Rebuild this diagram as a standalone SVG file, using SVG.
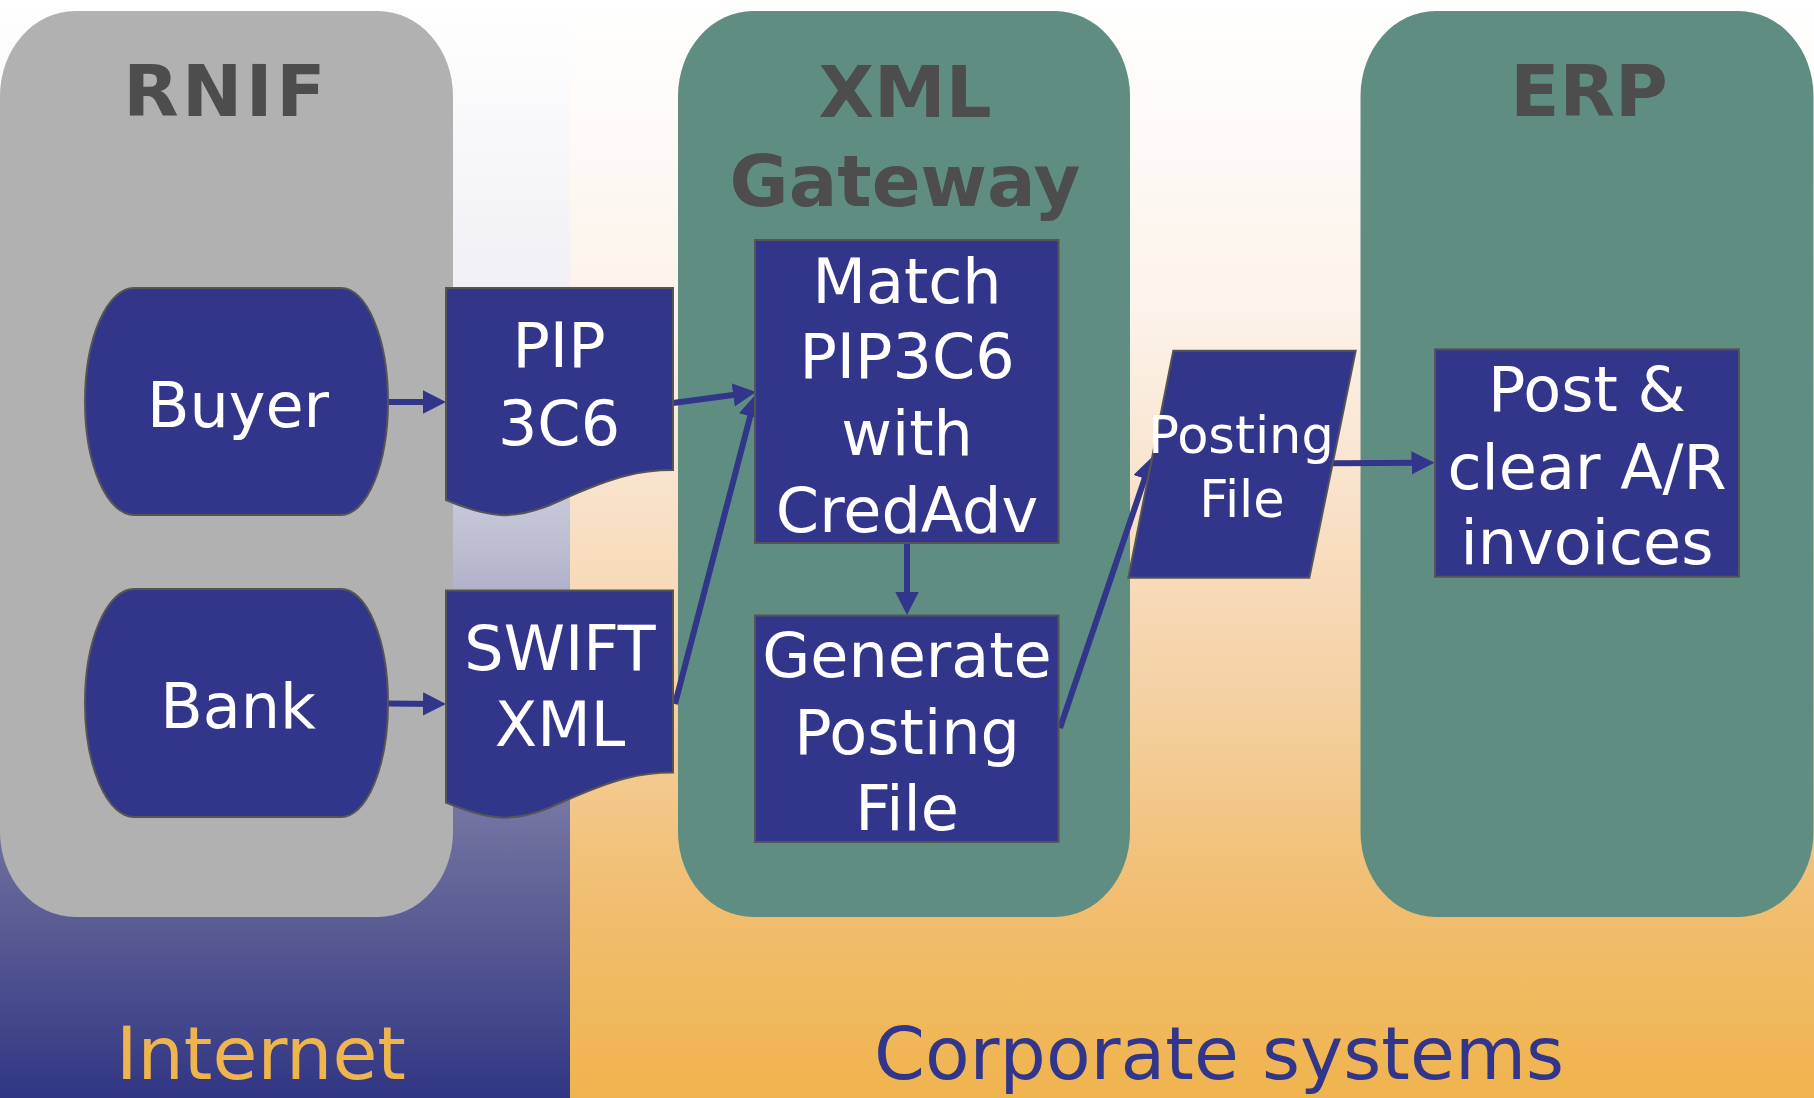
<svg xmlns="http://www.w3.org/2000/svg" width="1814" height="1098" viewBox="0 0 1814 1098">
  <defs>
    <linearGradient id="bgInternet" x1="0" y1="0" x2="0" y2="1">
      <stop offset="0" stop-color="#FFFFFF"/>
      <stop offset="0.28" stop-color="#EFEFF4"/>
      <stop offset="0.5" stop-color="#BCBDD1"/>
      <stop offset="0.74" stop-color="#7374A2"/>
      <stop offset="0.84" stop-color="#5A5C93"/>
      <stop offset="1" stop-color="#313684"/>
    </linearGradient>
    <linearGradient id="bgCorporate" x1="0" y1="0" x2="0" y2="1">
      <stop offset="0" stop-color="#FFFFFF"/>
      <stop offset="0.28" stop-color="#FCF3EA"/>
      <stop offset="0.45" stop-color="#F9E2CA"/>
      <stop offset="0.62" stop-color="#F5D2A6"/>
      <stop offset="0.82" stop-color="#F1BE70"/>
      <stop offset="1" stop-color="#F0B44E"/>
    </linearGradient>
    <marker id="arrow" markerUnits="userSpaceOnUse" markerWidth="24" markerHeight="24" refX="13" refY="11.7" orient="auto">
      <path d="M0,0 L23,11.7 L0,23.4 Z" fill="#32368A"/>
    </marker>
  </defs>
  <style>
    .lane-gray { fill: #B1B1B1; }
    .lane-teal { fill: #608D82; }
    .title { font-family: "DejaVu Sans", Verdana, sans-serif; font-weight: bold; font-size: 72px; fill: #4D4D4D; text-anchor: middle; }
    .node { fill: #32368A; stroke: #555555; stroke-width: 2; }
    .label { font-family: "DejaVu Sans", Verdana, sans-serif; font-size: 62px; fill: #FFFFFF; text-anchor: middle; }
    .label-sm { font-family: "DejaVu Sans", Verdana, sans-serif; font-size: 51px; fill: #FFFFFF; text-anchor: middle; }
    .zone { font-family: "DejaVu Sans", Verdana, sans-serif; font-size: 73px; text-anchor: middle; }
    .edge { fill: none; stroke: #32368A; stroke-width: 6; marker-end: url(#arrow); }
  </style>

  <!-- background zones -->
  <rect x="0" y="0" width="570" height="1098" fill="url(#bgInternet)"/>
  <rect x="570" y="0" width="1244" height="1098" fill="url(#bgCorporate)"/>
  <text class="zone" x="261" y="1079" fill="#F0B44C">Internet</text>
  <text class="zone" x="1219" y="1079" fill="#32368A">Corporate systems</text>

  <!-- system lanes -->
  <g id="lane-rnif">
    <rect class="lane-gray" x="0" y="11" width="453" height="906" rx="75" ry="85"/>
    <text class="title" x="226" y="116" letter-spacing="3.5">RNIF</text>
  </g>
  <g id="lane-gateway">
    <rect class="lane-teal" x="678" y="11" width="452" height="906" rx="75" ry="85"/>
    <text class="title" x="905" y="117">XML</text>
    <text class="title" x="905" y="206">Gateway</text>
  </g>
  <g id="lane-erp">
    <rect class="lane-teal" x="1360.5" y="11" width="453" height="906" rx="75" ry="85"/>
    <text class="title" x="1589" y="116">ERP</text>
  </g>

  <!-- connectors -->
  <g id="connectors">
    <line class="edge" x1="388" y1="402" x2="436" y2="402"/>
    <line class="edge" x1="388" y1="703.5" x2="436" y2="704"/>
    <line class="edge" x1="673" y1="403" x2="746.1" y2="393.3"/>
    <line class="edge" x1="675" y1="704" x2="753.5" y2="403.7"/>
    <line class="edge" x1="907" y1="543" x2="907" y2="605"/>
    <line class="edge" x1="1060" y1="728" x2="1148.8" y2="466.5"/>
    <line class="edge" x1="1333" y1="463.3" x2="1424.5" y2="462.8"/>
  </g>

  <!-- nodes -->
  <g id="node-buyer">
    <path class="node" d="M134,288 H341 A47,113.5 0 0 1 341,515 H134 A49,113.5 0 0 1 134,288 Z"/>
    <text class="label" x="238" y="427">Buyer</text>
  </g>
  <g id="node-bank">
    <path class="node" d="M134,589 H341 A47,114 0 0 1 341,817 H134 A49,114 0 0 1 134,589 Z"/>
    <text class="label" x="238" y="728">Bank</text>
  </g>
  <g id="node-pip3c6">
    <path class="node" d="M446,288 H673 V470 C655,470 640,472 625,476 C600,482 575,494 550,505 C530,513 515,516 500,515 C485,514 465,508 446,500 Z"/>
    <text class="label" x="559" y="367">PIP</text>
    <text class="label" x="559" y="445">3C6</text>
  </g>
  <g id="node-swift">
    <path class="node" d="M446,590.5 H673 V772.5 C655,772.5 640,774.5 625,778.5 C600,784.5 575,796.5 550,807.5 C530,815.5 515,818.5 500,817.5 C485,816.5 465,810.5 446,802.5 Z"/>
    <text class="label" x="560" y="670">SWIFT</text>
    <text class="label" x="560" y="746">XML</text>
  </g>
  <g id="node-match">
    <rect class="node" x="755" y="240" width="303.5" height="303"/>
    <text class="label" x="907" y="303">Match</text>
    <text class="label" x="907" y="378">PIP3C6</text>
    <text class="label" x="907" y="455">with</text>
    <text class="label" x="907" y="532">CredAdv</text>
  </g>
  <g id="node-generate">
    <rect class="node" x="755" y="615.5" width="303.5" height="226.5"/>
    <text class="label" x="907" y="677">Generate</text>
    <text class="label" x="907" y="753.5">Posting</text>
    <text class="label" x="907" y="830">File</text>
  </g>
  <g id="node-posting-file">
    <path class="node" d="M1173.3,350.7 H1355.7 L1309.3,577.7 H1128.3 Z"/>
    <text class="label-sm" x="1241" y="453">Posting</text>
    <text class="label-sm" x="1242" y="517">File</text>
  </g>
  <g id="node-post-clear">
    <rect class="node" x="1435" y="349.3" width="304" height="227.4"/>
    <text class="label" x="1587" y="411">Post &amp;</text>
    <text class="label" x="1587" y="489">clear A/R</text>
    <text class="label" x="1587" y="564">invoices</text>
  </g>
</svg>
